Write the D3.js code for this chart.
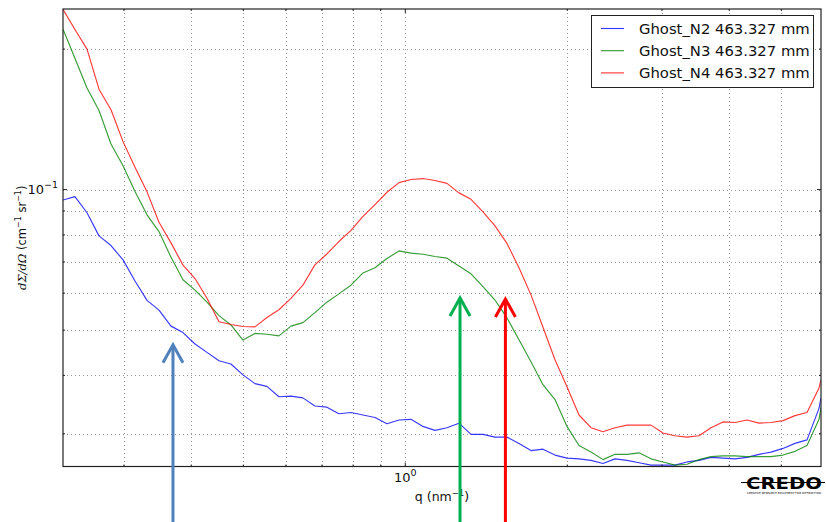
<!DOCTYPE html>
<html><head><meta charset="utf-8">
<script src="https://cdn.jsdelivr.net/npm/d3@7"></script>
<style>body{margin:0;background:#fff}svg{display:block}</style>
</head><body><svg id="c" width="826" height="522"></svg>
<script>
// ---- data ----
const qValues = [0.2311, 0.2432, 0.2561, 0.2696, 0.2838, 0.2988, 0.3145, 0.3311, 0.3485, 0.3669,
  0.3862, 0.4066, 0.4280, 0.4505, 0.4742, 0.4992, 0.5255, 0.5532, 0.5823, 0.6130,
  0.6452, 0.6792, 0.7150, 0.7527, 0.7925, 0.8344, 0.8784, 0.9246, 0.9734, 1.0247,
  1.0787, 1.1356, 1.1954, 1.2584, 1.3247, 1.3946, 1.4680, 1.5453, 1.6268, 1.7125,
  1.8028, 1.8978, 1.9978, 2.1032, 2.2140, 2.3307, 2.4536, 2.5829, 2.7190, 2.8623,
  3.0131, 3.1720, 3.3391, 3.5151, 3.7004, 3.8954, 4.1007, 4.3168, 4.5443, 4.7838,
  5.0359, 5.3013, 5.5807, 5.8748, 5.925];
const ghostN2 = [0.0950, 0.0966, 0.0892, 0.0796, 0.0759, 0.0707, 0.0637, 0.0579, 0.0552, 0.0510,
  0.0494, 0.0467, 0.0448, 0.0430, 0.0423, 0.0401, 0.0384, 0.0379, 0.0360, 0.0361,
  0.0358, 0.0344, 0.0342, 0.0331, 0.0333, 0.0329, 0.0325, 0.0315, 0.0321, 0.0322,
  0.0311, 0.0305, 0.0309, 0.0316, 0.0299, 0.0299, 0.0295, 0.0295, 0.0286, 0.0276,
  0.0278, 0.0270, 0.0266, 0.0265, 0.0263, 0.0259, 0.0265, 0.0263, 0.0260, 0.0257,
  0.0257, 0.0257, 0.0261, 0.0263, 0.0267, 0.0266, 0.0265, 0.0267, 0.0271, 0.0274,
  0.0279, 0.0286, 0.0291, 0.0340, 0.0358];
const ghostN3 = [0.2206, 0.1912, 0.1651, 0.1477, 0.1252, 0.1125, 0.0991, 0.0883, 0.0813, 0.0716,
  0.0641, 0.0609, 0.0574, 0.0537, 0.0513, 0.0476, 0.0492, 0.0490, 0.0486, 0.0510,
  0.0519, 0.0545, 0.0574, 0.0598, 0.0624, 0.0663, 0.0680, 0.0712, 0.0739, 0.0731,
  0.0727, 0.0719, 0.0713, 0.0686, 0.0660, 0.0620, 0.0580, 0.0531, 0.0477, 0.0428,
  0.0382, 0.0355, 0.0311, 0.0283, 0.0274, 0.0264, 0.0271, 0.0271, 0.0273, 0.0265,
  0.0261, 0.0257, 0.0258, 0.0264, 0.0268, 0.0269, 0.0269, 0.0268, 0.0268, 0.0268,
  0.0270, 0.0275, 0.0283, 0.0322, 0.0341];
const ghostN4 = [0.2434, 0.2203, 0.1999, 0.1641, 0.1483, 0.1267, 0.1117, 0.0989, 0.0851, 0.0769,
  0.0689, 0.0645, 0.0585, 0.0521, 0.0514, 0.0509, 0.0508, 0.0532, 0.0553, 0.0585,
  0.0624, 0.0690, 0.0728, 0.0774, 0.0818, 0.0876, 0.0929, 0.0987, 0.1035, 0.1051,
  0.1056, 0.1046, 0.1031, 0.0984, 0.0953, 0.0896, 0.0836, 0.0767, 0.0680, 0.0595,
  0.0507, 0.0432, 0.0378, 0.0329, 0.0309, 0.0303, 0.0309, 0.0313, 0.0313, 0.0313,
  0.0301, 0.0297, 0.0295, 0.0297, 0.0309, 0.0318, 0.0317, 0.0321, 0.0316, 0.0317,
  0.0320, 0.0328, 0.0333, 0.0376, 0.0391];
const seriesNames = ["Ghost_N2 463.327 mm", "Ghost_N3 463.327 mm", "Ghost_N4 463.327 mm"];
const seriesValues = [ghostN2, ghostN3, ghostN4];
const seriesColors = ["#0000ff", "#008000", "#ff0000"];
const xDomain = [0.2311, 5.925];
const yDomain = [0.02552, 0.2437];
const xMajorTicks = [1];
const xMinorTicks = [0.3, 0.4, 0.5, 0.6, 0.7, 0.8, 0.9, 2, 3, 4, 5];
const yMajorTicks = [0.1];
const yMinorTicks = [0.03, 0.04, 0.05, 0.06, 0.07, 0.08, 0.09, 0.2];
const arrowQ = [0.370, 1.264, 1.535];
const arrowTipI = [0.0465, 0.0586, 0.0583];
const arrowColors = ["#4f81bd", "#00b050", "#ff0000"];

// ---- drawing ----
const W = 826, H = 522;
const m = {left: 63, right: 821, top: 9, bottom: 466.5};
const svg = d3.select("#c");
svg.append("rect").attr("width", W).attr("height", H).attr("fill", "#fff");

const x = d3.scaleLog().domain(xDomain).range([m.left, m.right]);
const y = d3.scaleLog().domain(yDomain).range([m.bottom, m.top]);

svg.append("defs").append("clipPath").attr("id", "clip")
  .append("rect").attr("x", m.left).attr("y", m.top)
  .attr("width", m.right - m.left).attr("height", m.bottom - m.top);

// grid
const grid = svg.append("g").attr("stroke", "#8a8a8a").attr("stroke-width", 0.9)
  .attr("stroke-dasharray", "1,3");
xMajorTicks.concat(xMinorTicks).forEach(t => {
  grid.append("line").attr("x1", Math.round(x(t)) + 0.5).attr("x2", Math.round(x(t)) + 0.5)
    .attr("y1", m.top).attr("y2", m.bottom);
});
yMajorTicks.concat(yMinorTicks).forEach(t => {
  grid.append("line").attr("y1", Math.round(y(t)) + 0.5).attr("y2", Math.round(y(t)) + 0.5)
    .attr("x1", m.left).attr("x2", m.right);
});

// series lines
const line = d3.line().x((d, i) => x(qValues[i])).y(d => y(d));
const lines = svg.append("g").attr("clip-path", "url(#clip)");
seriesValues.forEach((vals, i) => {
  lines.append("path").attr("d", line(vals)).attr("fill", "none")
    .attr("stroke", seriesColors[i]).attr("stroke-width", 1.15).attr("stroke-opacity", 0.78)
    .attr("stroke-linejoin", "round");
});

// frame
svg.append("rect").attr("x", m.left).attr("y", m.top)
  .attr("width", m.right - m.left).attr("height", m.bottom - m.top)
  .attr("fill", "none").attr("stroke", "#222").attr("stroke-width", 1.2);

// ticks (inward, all sides)
const tk = svg.append("g").attr("stroke", "#222").attr("stroke-width", 1);
function xt(t, len) {
  const px = x(t);
  tk.append("line").attr("x1", px).attr("x2", px).attr("y1", m.bottom).attr("y2", m.bottom - len);
  tk.append("line").attr("x1", px).attr("x2", px).attr("y1", m.top).attr("y2", m.top + len);
}
function yt(t, len) {
  const py = y(t);
  tk.append("line").attr("y1", py).attr("y2", py).attr("x1", m.left).attr("x2", m.left + len);
  tk.append("line").attr("y1", py).attr("y2", py).attr("x1", m.right).attr("x2", m.right - len);
}
xMajorTicks.forEach(t => xt(t, 4)); xMinorTicks.forEach(t => xt(t, 2));
yMajorTicks.forEach(t => yt(t, 4)); yMinorTicks.forEach(t => yt(t, 2));

// tick labels
const font = "DejaVu Sans, sans-serif";
xMajorTicks.forEach(t => {
  const e = Math.round(Math.log10(t));
  const tx = svg.append("text").attr("x", x(t)).attr("y", 482).attr("text-anchor", "middle")
    .attr("font-family", font).attr("font-size", 13).attr("fill", "#111");
  tx.append("tspan").text("10");
  tx.append("tspan").attr("dy", -6).attr("font-size", 9.5).text(String(e));
});
yMajorTicks.forEach(t => {
  const e = Math.round(Math.log10(t));
  const tx = svg.append("text").attr("x", 58).attr("y", y(t) + 4).attr("text-anchor", "end")
    .attr("font-family", font).attr("font-size", 13).attr("fill", "#111");
  tx.append("tspan").text("10");
  tx.append("tspan").attr("dy", -6).attr("font-size", 9.5).text("\u2212" + String(-e));
});

// axis labels
const xl = svg.append("text").attr("x", (m.left + m.right) / 2).attr("y", 501)
  .attr("text-anchor", "middle").attr("font-family", font).attr("font-size", 12.5).attr("fill", "#111");
xl.append("tspan").text("q (nm");
xl.append("tspan").attr("dy", -5).attr("font-size", 8.5).text("\u22121");
xl.append("tspan").attr("dy", 5).text(")");

const yl = svg.append("text").attr("transform", `translate(26,${(m.top + m.bottom) / 2}) rotate(-90)`)
  .attr("text-anchor", "middle").attr("font-family", font).attr("font-size", 11.5).attr("fill", "#111");
yl.append("tspan").attr("font-family", "DejaVu Serif, serif").attr("font-style", "italic").text("dΣ/dΩ");
yl.append("tspan").text(" (cm");
yl.append("tspan").attr("dy", -5).attr("font-size", 8).text("\u22121");
yl.append("tspan").attr("dy", 5).text("  sr");
yl.append("tspan").attr("dy", -5).attr("font-size", 8).text("\u22121");
yl.append("tspan").attr("dy", 5).text(")");

// legend
const lg = svg.append("g");
lg.append("rect").attr("x", 591.5).attr("y", 15.5).attr("width", 222).attr("height", 72)
  .attr("fill", "#fff").attr("stroke", "#222").attr("stroke-width", 1);
seriesNames.forEach((n, i) => {
  const yy = 28.5 + i * 22.2;
  lg.append("line").attr("x1", 601).attr("x2", 624).attr("y1", yy).attr("y2", yy)
    .attr("stroke", seriesColors[i]).attr("stroke-width", 1.15).attr("stroke-opacity", 0.78);
  lg.append("text").attr("x", 639).attr("y", yy + 5).attr("font-family", font)
    .attr("font-size", 14.8).attr("fill", "#111").text(n);
});

// arrows
arrowQ.forEach((q, i) => {
  const ax = x(q), ay = y(arrowTipI[i]);
  const g = svg.append("g").attr("stroke", arrowColors[i]).attr("stroke-width", 3).attr("fill", "none");
  g.append("line").attr("x1", ax).attr("x2", ax).attr("y1", ay + 1).attr("y2", H);
  g.append("polyline").attr("points", `${ax - 10},${ay + 18} ${ax},${ay} ${ax + 10},${ay + 18}`)
    .attr("stroke-linejoin", "miter");
});

// logo
svg.append("line").attr("x1", 741).attr("x2", 825).attr("y1", 482.5).attr("y2", 482.5)
  .attr("stroke", "#000").attr("stroke-width", 1.2);
svg.append("text").attr("x", 746).attr("y", 488.5).attr("font-family", "DejaVu Sans, sans-serif")
  .attr("font-weight", "bold").attr("font-size", 16.5).attr("textLength", 76)
  .attr("lengthAdjust", "spacingAndGlyphs").attr("fill", "#000").text("CREDO");
svg.append("text").attr("x", 747).attr("y", 494).attr("font-family", "DejaVu Sans, sans-serif")
  .attr("font-size", 2.8).attr("textLength", 74).attr("lengthAdjust", "spacingAndGlyphs")
  .attr("fill", "#000").text("CREATIVE RESEARCH EQUIPMENT FOR DIFFRACTION");
</script></body></html>
